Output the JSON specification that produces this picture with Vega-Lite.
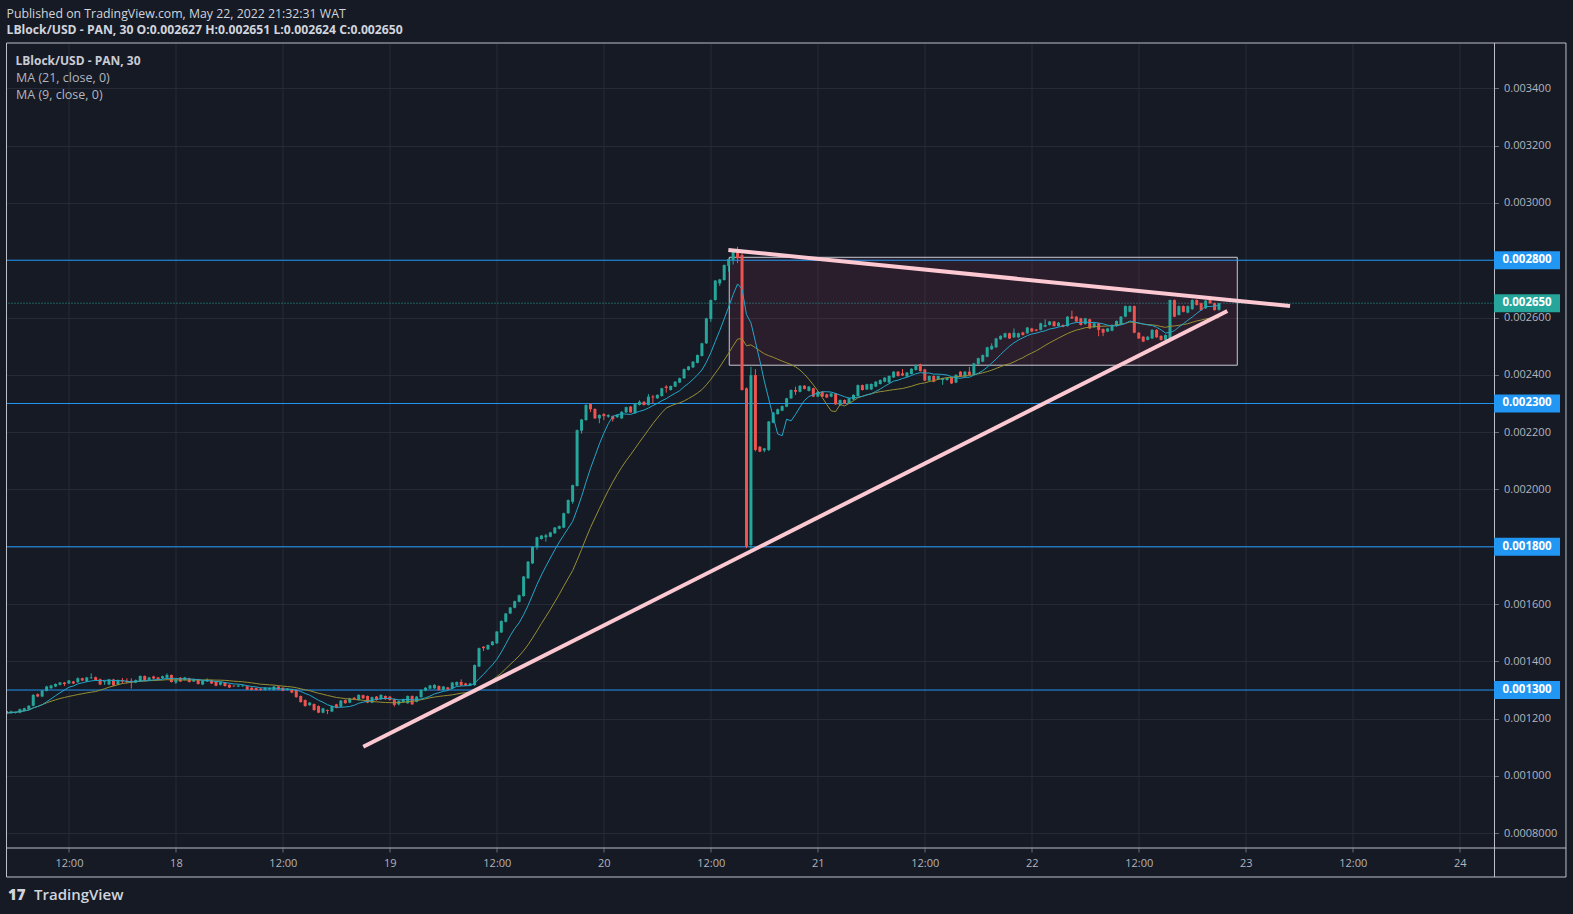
{
"$schema": "https://vega.github.io/schema/vega-lite/v6.json",
"autosize": "none",
"width": 1488,
"height": 805,
"padding": {"left": 6.5, "top": 43, "right": 78.5, "bottom": 66},
"background": "#161a25",
"title": {"text": "Published on TradingView.com, May 22, 2022 21:32:31 WAT", "subtitle": "LBlock/USD - PAN, 30 O:0.002627 H:0.002651 L:0.002624 C:0.002650"},
"config": {
 "view": {"stroke": null},
 "font": "Open Sans",
 "axis": {"domain": false, "gridColor": "#262a36", "gridWidth": 1, "tickColor": "#6a6d78", "tickSize": 4, "labelColor": "#b2b5be", "labelFontSize": 11, "labelPadding": 5, "zindex": 0},
 "legend": {"orient": "none", "legendX": 8, "legendY": 12, "padding": 1, "titleFontSize": 12, "titleFontWeight": "bold", "titleColor": "#c9ccd4", "titlePadding": 4, "labelFontSize": 12.5, "labelColor": "#b2b5be", "symbolSize": 0, "symbolStrokeWidth": 0, "symbolOpacity": 0, "labelOffset": -12, "rowPadding": 4},
 "title": {"anchor": "start", "frame": "group", "offset": 6, "fontSize": 12.3, "fontWeight": "normal", "color": "#d1d4dc", "subtitleFontSize": 12.2, "subtitleFontWeight": "bold", "subtitleColor": "#d1d4dc", "subtitlePadding": 4, "font": "Open Sans", "subtitleFont": "Open Sans"}
},
"datasets": {
 "levels": [{"p": 0.0028}, {"p": 0.0023}, {"p": 0.0018}, {"p": 0.0013}],
 "last": [{"p": 0.00265}],
 "trend": [
  {"line": "upper", "t": "2022-05-20T13:58Z", "p": 0.0028357},
  {"line": "upper", "t": "2022-05-23T04:58Z", "p": 0.0026402},
  {"line": "lower", "t": "2022-05-18T21:01Z", "p": 0.0011022},
  {"line": "lower", "t": "2022-05-22T21:56Z", "p": 0.0026228}
 ],
 "candles": [
{"t":"2022-05-17T05:00Z","o":0.001227,"h":0.001230,"l":0.001217,"c":0.001219},
{"t":"2022-05-17T05:30Z","o":0.001219,"h":0.001228,"l":0.001217,"c":0.001225},
{"t":"2022-05-17T06:00Z","o":0.001220,"h":0.001225,"l":0.001218,"c":0.001223},
{"t":"2022-05-17T06:30Z","o":0.001221,"h":0.001235,"l":0.001219,"c":0.001233},
{"t":"2022-05-17T07:00Z","o":0.001228,"h":0.001238,"l":0.001226,"c":0.001236},
{"t":"2022-05-17T07:30Z","o":0.001233,"h":0.001247,"l":0.001231,"c":0.001245},
{"t":"2022-05-17T08:00Z","o":0.001245,"h":0.001286,"l":0.001243,"c":0.001283},
{"t":"2022-05-17T08:30Z","o":0.001285,"h":0.001288,"l":0.001275,"c":0.001277},
{"t":"2022-05-17T09:00Z","o":0.001277,"h":0.001300,"l":0.001275,"c":0.001298},
{"t":"2022-05-17T09:30Z","o":0.001297,"h":0.001315,"l":0.001295,"c":0.001312},
{"t":"2022-05-17T10:00Z","o":0.001306,"h":0.001318,"l":0.001304,"c":0.001316},
{"t":"2022-05-17T10:30Z","o":0.001312,"h":0.001323,"l":0.001310,"c":0.001321},
{"t":"2022-05-17T11:00Z","o":0.001318,"h":0.001328,"l":0.001316,"c":0.001326},
{"t":"2022-05-17T11:30Z","o":0.001326,"h":0.001328,"l":0.001314,"c":0.001321},
{"t":"2022-05-17T12:00Z","o":0.001323,"h":0.001335,"l":0.001321,"c":0.001333},
{"t":"2022-05-17T12:30Z","o":0.001330,"h":0.001332,"l":0.001321,"c":0.001323},
{"t":"2022-05-17T13:00Z","o":0.001327,"h":0.001344,"l":0.001325,"c":0.001341},
{"t":"2022-05-17T13:30Z","o":0.001341,"h":0.001343,"l":0.001331,"c":0.001333},
{"t":"2022-05-17T14:00Z","o":0.001330,"h":0.001346,"l":0.001328,"c":0.001344},
{"t":"2022-05-17T14:30Z","o":0.001341,"h":0.001358,"l":0.001339,"c":0.001344},
{"t":"2022-05-17T15:00Z","o":0.001345,"h":0.001347,"l":0.001333,"c":0.001335},
{"t":"2022-05-17T15:30Z","o":0.001338,"h":0.001340,"l":0.001317,"c":0.001319},
{"t":"2022-05-17T16:00Z","o":0.001328,"h":0.001333,"l":0.001318,"c":0.001331},
{"t":"2022-05-17T16:30Z","o":0.001319,"h":0.001339,"l":0.001317,"c":0.001337},
{"t":"2022-05-17T17:00Z","o":0.001337,"h":0.001339,"l":0.001314,"c":0.001316},
{"t":"2022-05-17T17:30Z","o":0.001319,"h":0.001337,"l":0.001317,"c":0.001335},
{"t":"2022-05-17T18:00Z","o":0.001335,"h":0.001342,"l":0.001321,"c":0.001330},
{"t":"2022-05-17T18:30Z","o":0.001332,"h":0.001341,"l":0.001323,"c":0.001328},
{"t":"2022-05-17T19:00Z","o":0.001332,"h":0.001341,"l":0.001305,"c":0.001328},
{"t":"2022-05-17T19:30Z","o":0.001326,"h":0.001337,"l":0.001324,"c":0.001335},
{"t":"2022-05-17T20:00Z","o":0.001330,"h":0.001351,"l":0.001328,"c":0.001349},
{"t":"2022-05-17T20:30Z","o":0.001349,"h":0.001351,"l":0.001330,"c":0.001332},
{"t":"2022-05-17T21:00Z","o":0.001335,"h":0.001346,"l":0.001333,"c":0.001344},
{"t":"2022-05-17T21:30Z","o":0.001347,"h":0.001350,"l":0.001338,"c":0.001340},
{"t":"2022-05-17T22:00Z","o":0.001344,"h":0.001346,"l":0.001335,"c":0.001337},
{"t":"2022-05-17T22:30Z","o":0.001341,"h":0.001350,"l":0.001339,"c":0.001348},
{"t":"2022-05-17T23:00Z","o":0.001343,"h":0.001358,"l":0.001341,"c":0.001352},
{"t":"2022-05-17T23:30Z","o":0.001352,"h":0.001354,"l":0.001326,"c":0.001328},
{"t":"2022-05-18T00:00Z","o":0.001326,"h":0.001339,"l":0.001321,"c":0.001337},
{"t":"2022-05-18T00:30Z","o":0.001343,"h":0.001345,"l":0.001328,"c":0.001330},
{"t":"2022-05-18T01:00Z","o":0.001335,"h":0.001346,"l":0.001333,"c":0.001344},
{"t":"2022-05-18T01:30Z","o":0.001341,"h":0.001343,"l":0.001326,"c":0.001328},
{"t":"2022-05-18T02:00Z","o":0.001330,"h":0.001339,"l":0.001328,"c":0.001337},
{"t":"2022-05-18T02:30Z","o":0.001337,"h":0.001339,"l":0.001319,"c":0.001321},
{"t":"2022-05-18T03:00Z","o":0.001319,"h":0.001335,"l":0.001317,"c":0.001333},
{"t":"2022-05-18T03:30Z","o":0.001330,"h":0.001341,"l":0.001328,"c":0.001335},
{"t":"2022-05-18T04:00Z","o":0.001333,"h":0.001335,"l":0.001321,"c":0.001323},
{"t":"2022-05-18T04:30Z","o":0.001329,"h":0.001331,"l":0.001313,"c":0.001315},
{"t":"2022-05-18T05:00Z","o":0.001318,"h":0.001329,"l":0.001316,"c":0.001327},
{"t":"2022-05-18T05:30Z","o":0.001326,"h":0.001328,"l":0.001312,"c":0.001314},
{"t":"2022-05-18T06:00Z","o":0.001318,"h":0.001320,"l":0.001307,"c":0.001309},
{"t":"2022-05-18T06:30Z","o":0.001315,"h":0.001317,"l":0.001311,"c":0.001313},
{"t":"2022-05-18T07:00Z","o":0.001312,"h":0.001318,"l":0.001310,"c":0.001316},
{"t":"2022-05-18T07:30Z","o":0.001313,"h":0.001318,"l":0.001311,"c":0.001316},
{"t":"2022-05-18T08:00Z","o":0.001313,"h":0.001315,"l":0.001300,"c":0.001302},
{"t":"2022-05-18T08:30Z","o":0.001308,"h":0.001310,"l":0.001298,"c":0.001300},
{"t":"2022-05-18T09:00Z","o":0.001307,"h":0.001309,"l":0.001298,"c":0.001300},
{"t":"2022-05-18T09:30Z","o":0.001305,"h":0.001307,"l":0.001298,"c":0.001300},
{"t":"2022-05-18T10:00Z","o":0.001300,"h":0.001310,"l":0.001298,"c":0.001308},
{"t":"2022-05-18T10:30Z","o":0.001302,"h":0.001309,"l":0.001300,"c":0.001307},
{"t":"2022-05-18T11:00Z","o":0.001300,"h":0.001314,"l":0.001298,"c":0.001312},
{"t":"2022-05-18T11:30Z","o":0.001312,"h":0.001314,"l":0.001300,"c":0.001302},
{"t":"2022-05-18T12:00Z","o":0.001308,"h":0.001310,"l":0.001296,"c":0.001298},
{"t":"2022-05-18T12:30Z","o":0.001300,"h":0.001307,"l":0.001298,"c":0.001305},
{"t":"2022-05-18T13:00Z","o":0.001302,"h":0.001304,"l":0.001289,"c":0.001291},
{"t":"2022-05-18T13:30Z","o":0.001300,"h":0.001302,"l":0.001273,"c":0.001275},
{"t":"2022-05-18T14:00Z","o":0.001279,"h":0.001281,"l":0.001256,"c":0.001258},
{"t":"2022-05-18T14:30Z","o":0.001265,"h":0.001267,"l":0.001242,"c":0.001244},
{"t":"2022-05-18T15:00Z","o":0.001247,"h":0.001258,"l":0.001245,"c":0.001256},
{"t":"2022-05-18T15:30Z","o":0.001251,"h":0.001253,"l":0.001228,"c":0.001230},
{"t":"2022-05-18T16:00Z","o":0.001244,"h":0.001246,"l":0.001219,"c":0.001221},
{"t":"2022-05-18T16:30Z","o":0.001221,"h":0.001238,"l":0.001219,"c":0.001236},
{"t":"2022-05-18T17:00Z","o":0.001230,"h":0.001232,"l":0.001216,"c":0.001227},
{"t":"2022-05-18T17:30Z","o":0.001225,"h":0.001246,"l":0.001223,"c":0.001244},
{"t":"2022-05-18T18:00Z","o":0.001250,"h":0.001252,"l":0.001236,"c":0.001238},
{"t":"2022-05-18T18:30Z","o":0.001242,"h":0.001265,"l":0.001240,"c":0.001263},
{"t":"2022-05-18T19:00Z","o":0.001265,"h":0.001267,"l":0.001252,"c":0.001254},
{"t":"2022-05-18T19:30Z","o":0.001256,"h":0.001273,"l":0.001254,"c":0.001271},
{"t":"2022-05-18T20:00Z","o":0.001273,"h":0.001275,"l":0.001266,"c":0.001268},
{"t":"2022-05-18T20:30Z","o":0.001265,"h":0.001285,"l":0.001263,"c":0.001283},
{"t":"2022-05-18T21:00Z","o":0.001282,"h":0.001284,"l":0.001269,"c":0.001271},
{"t":"2022-05-18T21:30Z","o":0.001279,"h":0.001281,"l":0.001254,"c":0.001256},
{"t":"2022-05-18T22:00Z","o":0.001256,"h":0.001277,"l":0.001254,"c":0.001275},
{"t":"2022-05-18T22:30Z","o":0.001277,"h":0.001279,"l":0.001263,"c":0.001265},
{"t":"2022-05-18T23:00Z","o":0.001268,"h":0.001285,"l":0.001266,"c":0.001283},
{"t":"2022-05-18T23:30Z","o":0.001279,"h":0.001281,"l":0.001266,"c":0.001268},
{"t":"2022-05-19T00:00Z","o":0.001277,"h":0.001279,"l":0.001263,"c":0.001265},
{"t":"2022-05-19T00:30Z","o":0.001268,"h":0.001270,"l":0.001242,"c":0.001248},
{"t":"2022-05-19T01:00Z","o":0.001250,"h":0.001264,"l":0.001246,"c":0.001262},
{"t":"2022-05-19T01:30Z","o":0.001258,"h":0.001270,"l":0.001256,"c":0.001268},
{"t":"2022-05-19T02:00Z","o":0.001254,"h":0.001281,"l":0.001252,"c":0.001279},
{"t":"2022-05-19T02:30Z","o":0.001279,"h":0.001281,"l":0.001248,"c":0.001250},
{"t":"2022-05-19T03:00Z","o":0.001259,"h":0.001279,"l":0.001257,"c":0.001277},
{"t":"2022-05-19T03:30Z","o":0.001275,"h":0.001302,"l":0.001273,"c":0.001300},
{"t":"2022-05-19T04:00Z","o":0.001298,"h":0.001310,"l":0.001296,"c":0.001308},
{"t":"2022-05-19T04:30Z","o":0.001305,"h":0.001318,"l":0.001303,"c":0.001316},
{"t":"2022-05-19T05:00Z","o":0.001306,"h":0.001320,"l":0.001304,"c":0.001318},
{"t":"2022-05-19T05:30Z","o":0.001314,"h":0.001316,"l":0.001298,"c":0.001300},
{"t":"2022-05-19T06:00Z","o":0.001300,"h":0.001314,"l":0.001298,"c":0.001312},
{"t":"2022-05-19T06:30Z","o":0.001309,"h":0.001311,"l":0.001300,"c":0.001302},
{"t":"2022-05-19T07:00Z","o":0.001305,"h":0.001328,"l":0.001303,"c":0.001326},
{"t":"2022-05-19T07:30Z","o":0.001316,"h":0.001330,"l":0.001314,"c":0.001328},
{"t":"2022-05-19T08:00Z","o":0.001328,"h":0.001337,"l":0.001314,"c":0.001316},
{"t":"2022-05-19T08:30Z","o":0.001323,"h":0.001325,"l":0.001314,"c":0.001316},
{"t":"2022-05-19T09:00Z","o":0.001316,"h":0.001325,"l":0.001314,"c":0.001323},
{"t":"2022-05-19T09:30Z","o":0.001317,"h":0.001389,"l":0.001315,"c":0.001387},
{"t":"2022-05-19T10:00Z","o":0.001382,"h":0.001448,"l":0.001380,"c":0.001446},
{"t":"2022-05-19T10:30Z","o":0.001451,"h":0.001453,"l":0.001436,"c":0.001446},
{"t":"2022-05-19T11:00Z","o":0.001442,"h":0.001459,"l":0.001440,"c":0.001457},
{"t":"2022-05-19T11:30Z","o":0.001457,"h":0.001471,"l":0.001455,"c":0.001469},
{"t":"2022-05-19T12:00Z","o":0.001463,"h":0.001506,"l":0.001461,"c":0.001504},
{"t":"2022-05-19T12:30Z","o":0.001501,"h":0.001543,"l":0.001499,"c":0.001541},
{"t":"2022-05-19T13:00Z","o":0.001538,"h":0.001569,"l":0.001536,"c":0.001567},
{"t":"2022-05-19T13:30Z","o":0.001567,"h":0.001590,"l":0.001565,"c":0.001588},
{"t":"2022-05-19T14:00Z","o":0.001587,"h":0.001612,"l":0.001585,"c":0.001610},
{"t":"2022-05-19T14:30Z","o":0.001608,"h":0.001633,"l":0.001606,"c":0.001631},
{"t":"2022-05-19T15:00Z","o":0.001628,"h":0.001698,"l":0.001626,"c":0.001696},
{"t":"2022-05-19T15:30Z","o":0.001690,"h":0.001750,"l":0.001688,"c":0.001748},
{"t":"2022-05-19T16:00Z","o":0.001742,"h":0.001802,"l":0.001740,"c":0.001800},
{"t":"2022-05-19T16:30Z","o":0.001798,"h":0.001835,"l":0.001790,"c":0.001833},
{"t":"2022-05-19T17:00Z","o":0.001827,"h":0.001841,"l":0.001825,"c":0.001839},
{"t":"2022-05-19T17:30Z","o":0.001833,"h":0.001845,"l":0.001818,"c":0.001840},
{"t":"2022-05-19T18:00Z","o":0.001835,"h":0.001852,"l":0.001833,"c":0.001850},
{"t":"2022-05-19T18:30Z","o":0.001847,"h":0.001869,"l":0.001845,"c":0.001867},
{"t":"2022-05-19T19:00Z","o":0.001863,"h":0.001874,"l":0.001861,"c":0.001872},
{"t":"2022-05-19T19:30Z","o":0.001867,"h":0.001919,"l":0.001865,"c":0.001917},
{"t":"2022-05-19T20:00Z","o":0.001917,"h":0.001965,"l":0.001915,"c":0.001963},
{"t":"2022-05-19T20:30Z","o":0.001957,"h":0.002017,"l":0.001950,"c":0.002015},
{"t":"2022-05-19T21:00Z","o":0.002012,"h":0.002209,"l":0.002010,"c":0.002207},
{"t":"2022-05-19T21:30Z","o":0.002205,"h":0.002246,"l":0.002195,"c":0.002244},
{"t":"2022-05-19T22:00Z","o":0.002242,"h":0.002297,"l":0.002240,"c":0.002295},
{"t":"2022-05-19T22:30Z","o":0.002298,"h":0.002300,"l":0.002270,"c":0.002280},
{"t":"2022-05-19T23:00Z","o":0.002281,"h":0.002283,"l":0.002246,"c":0.002248},
{"t":"2022-05-19T23:30Z","o":0.002248,"h":0.002262,"l":0.002231,"c":0.002260},
{"t":"2022-05-20T00:00Z","o":0.002263,"h":0.002266,"l":0.002242,"c":0.002256},
{"t":"2022-05-20T00:30Z","o":0.002254,"h":0.002262,"l":0.002250,"c":0.002260},
{"t":"2022-05-20T01:00Z","o":0.002256,"h":0.002258,"l":0.002237,"c":0.002245},
{"t":"2022-05-20T01:30Z","o":0.002252,"h":0.002262,"l":0.002250,"c":0.002260},
{"t":"2022-05-20T02:00Z","o":0.002248,"h":0.002273,"l":0.002246,"c":0.002271},
{"t":"2022-05-20T02:30Z","o":0.002269,"h":0.002289,"l":0.002267,"c":0.002287},
{"t":"2022-05-20T03:00Z","o":0.002289,"h":0.002291,"l":0.002267,"c":0.002269},
{"t":"2022-05-20T03:30Z","o":0.002266,"h":0.002302,"l":0.002264,"c":0.002300},
{"t":"2022-05-20T04:00Z","o":0.002295,"h":0.002311,"l":0.002293,"c":0.002306},
{"t":"2022-05-20T04:30Z","o":0.002306,"h":0.002308,"l":0.002293,"c":0.002295},
{"t":"2022-05-20T05:00Z","o":0.002295,"h":0.002333,"l":0.002293,"c":0.002324},
{"t":"2022-05-20T05:30Z","o":0.002324,"h":0.002330,"l":0.002301,"c":0.002321},
{"t":"2022-05-20T06:00Z","o":0.002318,"h":0.002332,"l":0.002316,"c":0.002330},
{"t":"2022-05-20T06:30Z","o":0.002326,"h":0.002355,"l":0.002324,"c":0.002353},
{"t":"2022-05-20T07:00Z","o":0.002359,"h":0.002364,"l":0.002338,"c":0.002354},
{"t":"2022-05-20T07:30Z","o":0.002347,"h":0.002363,"l":0.002345,"c":0.002361},
{"t":"2022-05-20T08:00Z","o":0.002359,"h":0.002378,"l":0.002357,"c":0.002376},
{"t":"2022-05-20T08:30Z","o":0.002373,"h":0.002390,"l":0.002371,"c":0.002388},
{"t":"2022-05-20T09:00Z","o":0.002388,"h":0.002422,"l":0.002386,"c":0.002420},
{"t":"2022-05-20T09:30Z","o":0.002417,"h":0.002431,"l":0.002415,"c":0.002429},
{"t":"2022-05-20T10:00Z","o":0.002426,"h":0.002448,"l":0.002424,"c":0.002446},
{"t":"2022-05-20T10:30Z","o":0.002442,"h":0.002471,"l":0.002440,"c":0.002469},
{"t":"2022-05-20T11:00Z","o":0.002466,"h":0.002512,"l":0.002464,"c":0.002510},
{"t":"2022-05-20T11:30Z","o":0.002510,"h":0.002599,"l":0.002508,"c":0.002597},
{"t":"2022-05-20T12:00Z","o":0.002595,"h":0.002663,"l":0.002585,"c":0.002661},
{"t":"2022-05-20T12:30Z","o":0.002661,"h":0.002731,"l":0.002659,"c":0.002729},
{"t":"2022-05-20T13:00Z","o":0.002719,"h":0.002735,"l":0.002710,"c":0.002733},
{"t":"2022-05-20T13:30Z","o":0.002731,"h":0.002785,"l":0.002729,"c":0.002783},
{"t":"2022-05-20T14:00Z","o":0.002780,"h":0.002806,"l":0.002760,"c":0.002804},
{"t":"2022-05-20T14:30Z","o":0.002801,"h":0.002836,"l":0.002785,"c":0.002832},
{"t":"2022-05-20T15:00Z","o":0.002832,"h":0.002847,"l":0.002790,"c":0.002807},
{"t":"2022-05-20T15:30Z","o":0.002818,"h":0.002830,"l":0.002345,"c":0.002347},
{"t":"2022-05-20T16:00Z","o":0.002353,"h":0.002356,"l":0.001795,"c":0.001800},
{"t":"2022-05-20T16:30Z","o":0.001806,"h":0.002428,"l":0.001783,"c":0.002399},
{"t":"2022-05-20T17:00Z","o":0.002399,"h":0.002420,"l":0.002133,"c":0.002138},
{"t":"2022-05-20T17:30Z","o":0.002149,"h":0.002151,"l":0.002130,"c":0.002132},
{"t":"2022-05-20T18:00Z","o":0.002136,"h":0.002145,"l":0.002130,"c":0.002143},
{"t":"2022-05-20T18:30Z","o":0.002138,"h":0.002239,"l":0.002134,"c":0.002237},
{"t":"2022-05-20T19:00Z","o":0.002233,"h":0.002270,"l":0.002231,"c":0.002268},
{"t":"2022-05-20T19:30Z","o":0.002263,"h":0.002282,"l":0.002261,"c":0.002280},
{"t":"2022-05-20T20:00Z","o":0.002275,"h":0.002293,"l":0.002273,"c":0.002291},
{"t":"2022-05-20T20:30Z","o":0.002289,"h":0.002320,"l":0.002287,"c":0.002318},
{"t":"2022-05-20T21:00Z","o":0.002318,"h":0.002349,"l":0.002316,"c":0.002347},
{"t":"2022-05-20T21:30Z","o":0.002347,"h":0.002359,"l":0.002330,"c":0.002341},
{"t":"2022-05-20T22:00Z","o":0.002341,"h":0.002364,"l":0.002339,"c":0.002362},
{"t":"2022-05-20T22:30Z","o":0.002362,"h":0.002364,"l":0.002349,"c":0.002351},
{"t":"2022-05-20T23:00Z","o":0.002344,"h":0.002361,"l":0.002342,"c":0.002359},
{"t":"2022-05-20T23:30Z","o":0.002353,"h":0.002355,"l":0.002322,"c":0.002324},
{"t":"2022-05-21T00:00Z","o":0.002324,"h":0.002343,"l":0.002322,"c":0.002341},
{"t":"2022-05-21T00:30Z","o":0.002341,"h":0.002343,"l":0.002322,"c":0.002324},
{"t":"2022-05-21T01:00Z","o":0.002332,"h":0.002334,"l":0.002319,"c":0.002321},
{"t":"2022-05-21T01:30Z","o":0.002324,"h":0.002337,"l":0.002322,"c":0.002335},
{"t":"2022-05-21T02:00Z","o":0.002335,"h":0.002337,"l":0.002295,"c":0.002297},
{"t":"2022-05-21T02:30Z","o":0.002294,"h":0.002314,"l":0.002292,"c":0.002312},
{"t":"2022-05-21T03:00Z","o":0.002312,"h":0.002314,"l":0.002298,"c":0.002300},
{"t":"2022-05-21T03:30Z","o":0.002300,"h":0.002320,"l":0.002298,"c":0.002318},
{"t":"2022-05-21T04:00Z","o":0.002314,"h":0.002332,"l":0.002312,"c":0.002330},
{"t":"2022-05-21T04:30Z","o":0.002326,"h":0.002366,"l":0.002324,"c":0.002364},
{"t":"2022-05-21T05:00Z","o":0.002364,"h":0.002366,"l":0.002345,"c":0.002347},
{"t":"2022-05-21T05:30Z","o":0.002349,"h":0.002369,"l":0.002347,"c":0.002367},
{"t":"2022-05-21T06:00Z","o":0.002349,"h":0.002370,"l":0.002347,"c":0.002368},
{"t":"2022-05-21T06:30Z","o":0.002359,"h":0.002378,"l":0.002357,"c":0.002376},
{"t":"2022-05-21T07:00Z","o":0.002368,"h":0.002384,"l":0.002366,"c":0.002382},
{"t":"2022-05-21T07:30Z","o":0.002376,"h":0.002392,"l":0.002374,"c":0.002390},
{"t":"2022-05-21T08:00Z","o":0.002373,"h":0.002398,"l":0.002371,"c":0.002396},
{"t":"2022-05-21T08:30Z","o":0.002391,"h":0.002413,"l":0.002389,"c":0.002411},
{"t":"2022-05-21T09:00Z","o":0.002411,"h":0.002413,"l":0.002394,"c":0.002396},
{"t":"2022-05-21T09:30Z","o":0.002405,"h":0.002420,"l":0.002396,"c":0.002398},
{"t":"2022-05-21T10:00Z","o":0.002394,"h":0.002410,"l":0.002392,"c":0.002408},
{"t":"2022-05-21T10:30Z","o":0.002403,"h":0.002423,"l":0.002401,"c":0.002421},
{"t":"2022-05-21T11:00Z","o":0.002417,"h":0.002436,"l":0.002415,"c":0.002434},
{"t":"2022-05-21T11:30Z","o":0.002437,"h":0.002439,"l":0.002411,"c":0.002413},
{"t":"2022-05-21T12:00Z","o":0.002419,"h":0.002421,"l":0.002378,"c":0.002380},
{"t":"2022-05-21T12:30Z","o":0.002380,"h":0.002398,"l":0.002378,"c":0.002396},
{"t":"2022-05-21T13:00Z","o":0.002396,"h":0.002398,"l":0.002374,"c":0.002376},
{"t":"2022-05-21T13:30Z","o":0.002384,"h":0.002398,"l":0.002382,"c":0.002396},
{"t":"2022-05-21T14:00Z","o":0.002382,"h":0.002390,"l":0.002365,"c":0.002388},
{"t":"2022-05-21T14:30Z","o":0.002382,"h":0.002392,"l":0.002380,"c":0.002390},
{"t":"2022-05-21T15:00Z","o":0.002391,"h":0.002393,"l":0.002368,"c":0.002370},
{"t":"2022-05-21T15:30Z","o":0.002373,"h":0.002402,"l":0.002371,"c":0.002400},
{"t":"2022-05-21T16:00Z","o":0.002411,"h":0.002413,"l":0.002392,"c":0.002394},
{"t":"2022-05-21T16:30Z","o":0.002394,"h":0.002413,"l":0.002392,"c":0.002411},
{"t":"2022-05-21T17:00Z","o":0.002411,"h":0.002428,"l":0.002398,"c":0.002400},
{"t":"2022-05-21T17:30Z","o":0.002400,"h":0.002442,"l":0.002398,"c":0.002440},
{"t":"2022-05-21T18:00Z","o":0.002437,"h":0.002460,"l":0.002435,"c":0.002458},
{"t":"2022-05-21T18:30Z","o":0.002446,"h":0.002471,"l":0.002444,"c":0.002469},
{"t":"2022-05-21T19:00Z","o":0.002463,"h":0.002498,"l":0.002461,"c":0.002496},
{"t":"2022-05-21T19:30Z","o":0.002489,"h":0.002510,"l":0.002487,"c":0.002501},
{"t":"2022-05-21T20:00Z","o":0.002496,"h":0.002529,"l":0.002494,"c":0.002527},
{"t":"2022-05-21T20:30Z","o":0.002524,"h":0.002538,"l":0.002522,"c":0.002536},
{"t":"2022-05-21T21:00Z","o":0.002531,"h":0.002547,"l":0.002529,"c":0.002545},
{"t":"2022-05-21T21:30Z","o":0.002545,"h":0.002547,"l":0.002525,"c":0.002527},
{"t":"2022-05-21T22:00Z","o":0.002531,"h":0.002562,"l":0.002529,"c":0.002547},
{"t":"2022-05-21T22:30Z","o":0.002531,"h":0.002547,"l":0.002529,"c":0.002545},
{"t":"2022-05-21T23:00Z","o":0.002548,"h":0.002550,"l":0.002537,"c":0.002539},
{"t":"2022-05-21T23:30Z","o":0.002545,"h":0.002567,"l":0.002543,"c":0.002565},
{"t":"2022-05-22T00:00Z","o":0.002562,"h":0.002564,"l":0.002549,"c":0.002551},
{"t":"2022-05-22T00:30Z","o":0.002558,"h":0.002560,"l":0.002552,"c":0.002554},
{"t":"2022-05-22T01:00Z","o":0.002557,"h":0.002582,"l":0.002555,"c":0.002580},
{"t":"2022-05-22T01:30Z","o":0.002568,"h":0.002594,"l":0.002566,"c":0.002574},
{"t":"2022-05-22T02:00Z","o":0.002574,"h":0.002588,"l":0.002572,"c":0.002586},
{"t":"2022-05-22T02:30Z","o":0.002586,"h":0.002588,"l":0.002568,"c":0.002570},
{"t":"2022-05-22T03:00Z","o":0.002570,"h":0.002584,"l":0.002568,"c":0.002582},
{"t":"2022-05-22T03:30Z","o":0.002574,"h":0.002576,"l":0.002566,"c":0.002568},
{"t":"2022-05-22T04:00Z","o":0.002570,"h":0.002605,"l":0.002568,"c":0.002603},
{"t":"2022-05-22T04:30Z","o":0.002603,"h":0.002624,"l":0.002595,"c":0.002597},
{"t":"2022-05-22T05:00Z","o":0.002603,"h":0.002605,"l":0.002584,"c":0.002586},
{"t":"2022-05-22T05:30Z","o":0.002597,"h":0.002599,"l":0.002572,"c":0.002574},
{"t":"2022-05-22T06:00Z","o":0.002577,"h":0.002599,"l":0.002575,"c":0.002597},
{"t":"2022-05-22T06:30Z","o":0.002594,"h":0.002596,"l":0.002560,"c":0.002562},
{"t":"2022-05-22T07:00Z","o":0.002566,"h":0.002582,"l":0.002564,"c":0.002580},
{"t":"2022-05-22T07:30Z","o":0.002580,"h":0.002582,"l":0.002535,"c":0.002557},
{"t":"2022-05-22T08:00Z","o":0.002560,"h":0.002562,"l":0.002535,"c":0.002547},
{"t":"2022-05-22T08:30Z","o":0.002551,"h":0.002564,"l":0.002549,"c":0.002562},
{"t":"2022-05-22T09:00Z","o":0.002554,"h":0.002576,"l":0.002552,"c":0.002574},
{"t":"2022-05-22T09:30Z","o":0.002570,"h":0.002590,"l":0.002568,"c":0.002588},
{"t":"2022-05-22T10:00Z","o":0.002577,"h":0.002605,"l":0.002575,"c":0.002603},
{"t":"2022-05-22T10:30Z","o":0.002603,"h":0.002642,"l":0.002601,"c":0.002640},
{"t":"2022-05-22T11:00Z","o":0.002620,"h":0.002642,"l":0.002618,"c":0.002640},
{"t":"2022-05-22T11:30Z","o":0.002640,"h":0.002642,"l":0.002545,"c":0.002547},
{"t":"2022-05-22T12:00Z","o":0.002547,"h":0.002549,"l":0.002525,"c":0.002527},
{"t":"2022-05-22T12:30Z","o":0.002533,"h":0.002535,"l":0.002514,"c":0.002516},
{"t":"2022-05-22T13:00Z","o":0.002522,"h":0.002535,"l":0.002520,"c":0.002533},
{"t":"2022-05-22T13:30Z","o":0.002527,"h":0.002559,"l":0.002525,"c":0.002557},
{"t":"2022-05-22T14:00Z","o":0.002557,"h":0.002559,"l":0.002529,"c":0.002531},
{"t":"2022-05-22T14:30Z","o":0.002536,"h":0.002538,"l":0.002520,"c":0.002522},
{"t":"2022-05-22T15:00Z","o":0.002522,"h":0.002541,"l":0.002520,"c":0.002539},
{"t":"2022-05-22T15:30Z","o":0.002527,"h":0.002663,"l":0.002519,"c":0.002661},
{"t":"2022-05-22T16:00Z","o":0.002661,"h":0.002663,"l":0.002601,"c":0.002603},
{"t":"2022-05-22T16:30Z","o":0.002609,"h":0.002642,"l":0.002607,"c":0.002640},
{"t":"2022-05-22T17:00Z","o":0.002640,"h":0.002642,"l":0.002618,"c":0.002620},
{"t":"2022-05-22T17:30Z","o":0.002617,"h":0.002642,"l":0.002615,"c":0.002640},
{"t":"2022-05-22T18:00Z","o":0.002629,"h":0.002663,"l":0.002627,"c":0.002661},
{"t":"2022-05-22T18:30Z","o":0.002661,"h":0.002663,"l":0.002642,"c":0.002644},
{"t":"2022-05-22T19:00Z","o":0.002650,"h":0.002652,"l":0.002624,"c":0.002626},
{"t":"2022-05-22T19:30Z","o":0.002632,"h":0.002661,"l":0.002630,"c":0.002659},
{"t":"2022-05-22T20:00Z","o":0.002664,"h":0.002673,"l":0.002648,"c":0.002650},
{"t":"2022-05-22T20:30Z","o":0.002650,"h":0.002652,"l":0.002624,"c":0.002626},
{"t":"2022-05-22T21:00Z","o":0.002627,"h":0.002651,"l":0.002624,"c":0.002650}
 ]
},
"layer": [
 {
  "data": {"values": [{}]},
  "mark": {"type": "rect", "fill": "#b4365e", "fillOpacity": 0.13, "stroke": "#c8cad0", "strokeWidth": 1, "clip": true},
  "encoding": {
   "x": {"datum": {"year": 2022, "month": 5, "date": 20, "hours": 14, "minutes": 4, "utc": true}, "type": "temporal", "title": null},
   "x2": {"datum": {"year": 2022, "month": 5, "date": 22, "hours": 23, "minutes": 3, "utc": true}},
   "y": {"datum": 0.0028102, "type": "quantitative", "title": null},
   "y2": {"datum": 0.0024336}
  }
 },
 {
  "data": {"name": "levels"},
  "mark": {"type": "rule", "color": "#2196f3", "strokeWidth": 1, "clip": true},
  "encoding": {"y": {"field": "p", "type": "quantitative", "title": null}}
 },
 {
  "data": {"name": "last"},
  "mark": {"type": "rule", "color": "#26a69a", "strokeWidth": 1, "strokeDash": [1, 2], "clip": true},
  "encoding": {"y": {"field": "p", "type": "quantitative", "title": null}}
 },
 {
  "data": {"name": "candles"},
  "mark": {"type": "rule", "strokeWidth": 1, "clip": true},
  "encoding": {
   "x": {"field": "t", "type": "temporal", "title": null,
     "scale": {"type": "utc", "domain": [{"year": 2022, "month": 5, "date": 17, "hours": 5, "utc": true}, {"year": 2022, "month": 5, "date": 24, "hours": 3, "minutes": 54, "utc": true}], "nice": false, "padding": 0},
     "axis": {"orient": "bottom", "grid": true, "values": [
       {"year": 2022, "month": 5, "date": 17, "hours": 12, "utc": true},
       {"year": 2022, "month": 5, "date": 18, "hours": 0, "utc": true},
       {"year": 2022, "month": 5, "date": 18, "hours": 12, "utc": true},
       {"year": 2022, "month": 5, "date": 19, "hours": 0, "utc": true},
       {"year": 2022, "month": 5, "date": 19, "hours": 12, "utc": true},
       {"year": 2022, "month": 5, "date": 20, "hours": 0, "utc": true},
       {"year": 2022, "month": 5, "date": 20, "hours": 12, "utc": true},
       {"year": 2022, "month": 5, "date": 21, "hours": 0, "utc": true},
       {"year": 2022, "month": 5, "date": 21, "hours": 12, "utc": true},
       {"year": 2022, "month": 5, "date": 22, "hours": 0, "utc": true},
       {"year": 2022, "month": 5, "date": 22, "hours": 12, "utc": true},
       {"year": 2022, "month": 5, "date": 23, "hours": 0, "utc": true},
       {"year": 2022, "month": 5, "date": 23, "hours": 12, "utc": true},
       {"year": 2022, "month": 5, "date": 24, "hours": 0, "utc": true}],
       "labelExpr": "utchours(datum.value) == 0 ? utcFormat(datum.value, '%-d') : utcFormat(datum.value, '%H:%M')"}},
   "y": {"field": "l", "type": "quantitative", "title": null,
     "scale": {"domain": [0.00074866, 0.00355809], "nice": false, "zero": false, "padding": 0},
     "axis": {"orient": "right", "grid": true, "values": [0.0008, 0.001, 0.0012, 0.0014, 0.0016, 0.0018, 0.002, 0.0022, 0.0024, 0.0026, 0.0028, 0.003, 0.0032, 0.0034],
       "labelExpr": "datum.value < 0.00099 ? format(datum.value, '.7f') : format(datum.value, '.6f')"}},
   "y2": {"field": "h"},
   "color": {"condition": {"test": "datum.c >= datum.o", "value": "#26a69a"}, "value": "#ef5350"}
  }
 },
 {
  "data": {"name": "candles"},
  "mark": {"type": "bar", "size": 3, "clip": true},
  "encoding": {
   "x": {"field": "t", "type": "temporal", "title": null},
   "y": {"field": "o", "type": "quantitative", "title": null},
   "y2": {"field": "c"},
   "color": {"condition": {"test": "datum.c >= datum.o", "value": "#26a69a"}, "value": "#ef5350"}
  }
 },
 {
  "data": {"name": "candles"},
  "transform": [{"window": [{"op": "mean", "field": "c", "as": "ma21"}], "frame": [-20, 0], "sort": [{"field": "t"}]}],
  "mark": {"type": "line", "strokeWidth": 1, "clip": true},
  "encoding": {
   "x": {"field": "t", "type": "temporal", "title": null},
   "y": {"field": "ma21", "type": "quantitative", "title": null},
   "color": {"datum": "MA (21, close, 0)", "type": "nominal",
     "scale": {"domain": ["MA (21, close, 0)", "MA (9, close, 0)"], "range": ["#968f33", "#22a6c9"]},
     "legend": {"title": "LBlock/USD - PAN, 30"}}
  }
 },
 {
  "data": {"name": "candles"},
  "transform": [{"window": [{"op": "mean", "field": "c", "as": "ma9"}], "frame": [-8, 0], "sort": [{"field": "t"}]}],
  "mark": {"type": "line", "strokeWidth": 1, "clip": true},
  "encoding": {
   "x": {"field": "t", "type": "temporal", "title": null},
   "y": {"field": "ma9", "type": "quantitative", "title": null},
   "color": {"datum": "MA (9, close, 0)", "type": "nominal"}
  }
 },
 {
  "data": {"name": "trend"},
  "mark": {"type": "line", "color": "#fcc8d2", "strokeWidth": 4, "strokeCap": "butt", "clip": true},
  "encoding": {
   "x": {"field": "t", "type": "temporal", "title": null},
   "y": {"field": "p", "type": "quantitative", "title": null},
   "detail": {"field": "line"}
  }
 },
 {
  "data": {"values": [{}]},
  "mark": {"type": "rect", "fill": "transparent", "stroke": "#bcbfc6", "strokeWidth": 1, "clip": false},
  "encoding": {
   "x": {"datum": {"year": 2022, "month": 5, "date": 17, "hours": 5, "utc": true}, "type": "temporal", "title": null},
   "x2": {"datum": {"year": 2022, "month": 5, "date": 24, "hours": 11, "minutes": 55, "utc": true}},
   "y": {"datum": 0.00355809, "type": "quantitative", "title": null},
   "y2": {"datum": 0.00064745}
  }
 },
 {
  "data": {"values": [{}]},
  "mark": {"type": "rule", "stroke": "#bcbfc6", "strokeWidth": 1, "clip": false},
  "encoding": {
   "x": {"datum": {"year": 2022, "month": 5, "date": 24, "hours": 3, "minutes": 54, "utc": true}, "type": "temporal", "title": null},
   "y": {"datum": 0.00355809, "type": "quantitative", "title": null},
   "y2": {"datum": 0.00064745}
  }
 },
 {
  "data": {"values": [{}]},
  "mark": {"type": "rule", "stroke": "#bcbfc6", "strokeWidth": 1, "clip": false},
  "encoding": {
   "x": {"datum": {"year": 2022, "month": 5, "date": 17, "hours": 5, "utc": true}, "type": "temporal", "title": null},
   "x2": {"datum": {"year": 2022, "month": 5, "date": 24, "hours": 11, "minutes": 55, "utc": true}},
   "y": {"datum": 0.00074866, "type": "quantitative", "title": null}
  }
 },
 {
  "data": {"name": "levels"},
  "mark": {"type": "point", "shape": "M-1,-0.2727H1V0.2727H-1Z", "size": 4356, "filled": true, "opacity": 1, "color": "#2196f3", "clip": false},
  "encoding": {
   "x": {"datum": {"year": 2022, "month": 5, "date": 24, "hours": 7, "minutes": 33, "utc": true}, "type": "temporal", "title": null},
   "y": {"field": "p", "type": "quantitative", "title": null}
  }
 },
 {
  "data": {"name": "last"},
  "mark": {"type": "point", "shape": "M-1,-0.2727H1V0.2727H-1Z", "size": 4356, "filled": true, "opacity": 1, "color": "#26a69a", "clip": false},
  "encoding": {
   "x": {"datum": {"year": 2022, "month": 5, "date": 24, "hours": 7, "minutes": 33, "utc": true}, "type": "temporal", "title": null},
   "y": {"field": "p", "type": "quantitative", "title": null}
  }
 },
 {
  "data": {"name": "levels"},
  "mark": {"type": "text", "color": "#ffffff", "fontWeight": "bold", "fontSize": 11.5, "align": "center", "baseline": "middle", "clip": false},
  "encoding": {
   "x": {"datum": {"year": 2022, "month": 5, "date": 24, "hours": 7, "minutes": 33, "utc": true}, "type": "temporal", "title": null},
   "y": {"field": "p", "type": "quantitative", "title": null},
   "text": {"field": "p", "format": ".6f"}
  }
 },
 {
  "data": {"name": "last"},
  "mark": {"type": "text", "color": "#ffffff", "fontWeight": "bold", "fontSize": 11.5, "align": "center", "baseline": "middle", "clip": false},
  "encoding": {
   "x": {"datum": {"year": 2022, "month": 5, "date": 24, "hours": 7, "minutes": 33, "utc": true}, "type": "temporal", "title": null},
   "y": {"field": "p", "type": "quantitative", "title": null},
   "text": {"field": "p", "format": ".6f"}
  }
 },
 {
  "data": {"values": [{}]},
  "mark": {"type": "text", "color": "#d1d4dc", "fontWeight": 900, "fontSize": 15, "align": "left", "baseline": "middle", "clip": false},
  "encoding": {
   "x": {"datum": {"year": 2022, "month": 5, "date": 17, "hours": 5, "minutes": 10, "utc": true}, "type": "temporal", "title": null},
   "y": {"datum": 0.00058463, "type": "quantitative", "title": null},
   "text": {"value": "17"}
  }
 },
 {
  "data": {"values": [{}]},
  "mark": {"type": "text", "color": "#d1d4dc", "fontWeight": 600, "fontSize": 15, "align": "left", "baseline": "middle", "clip": false},
  "encoding": {
   "x": {"datum": {"year": 2022, "month": 5, "date": 17, "hours": 8, "minutes": 5, "utc": true}, "type": "temporal", "title": null},
   "y": {"datum": 0.00058463, "type": "quantitative", "title": null},
   "text": {"value": "TradingView"}
  }
 }
]
}
